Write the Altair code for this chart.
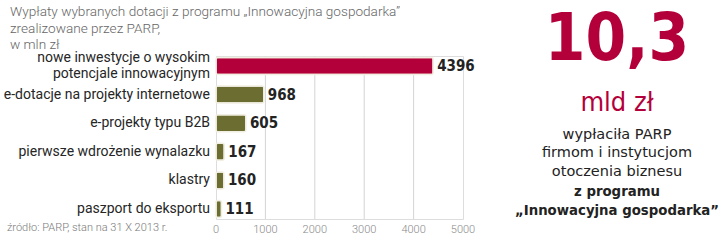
import altair as alt
import pandas as pd

categories = [
    "nowe inwestycje o wysokim\npotencjale innowacyjnym",
    "e-dotacje na projekty internetowe",
    "e-projekty typu B2B",
    "pierwsze wdrożenie wynalazku",
    "klastry",
    "paszport do eksportu",
]
values = [4396, 968, 605, 167, 160, 111]
highlight = [True, False, False, False, False, False]
x_ticks = [0, 1000, 2000, 3000, 4000, 5000]
grid_values = [1000, 2000, 3000, 4000]

title_text = "Wypłaty wybranych dotacji z programu „Innowacyjna gospodarka”\nzrealizowane przez PARP,\nw mln zł"
source_text = "źródło: PARP, stan na 31 X 2013 r."
big_number = "10,3"
big_unit = "mld zł"
side_lines = [
    ("wypłaciła PARP", "normal"),
    ("firmom i instytucjom", "normal"),
    ("otoczenia biznesu", "normal"),
    ("z programu", "bold"),
    ("„Innowacyjna gospodarka”", "bold"),
]

RED = "#b3003b"
OLIVE = "#6b6e30"
W, H = 247, 163
LEFT, TOP = 216, 56

df = pd.DataFrame({"cat": categories, "value": values, "hl": highlight})
df["label"] = df["value"].astype(str)

# label lines: split multi-line category names into separate rows
lab_rows = []
for c in categories:
    parts = c.split("\n")
    if len(parts) == 1:
        lab_rows.append({"cat": c, "text": parts[0], "pos": "single"})
    else:
        lab_rows.append({"cat": c, "text": parts[0], "pos": "top"})
        lab_rows.append({"cat": c, "text": parts[1], "pos": "bottom"})
lab = pd.DataFrame(lab_rows)

y_enc = alt.Y("cat:N", sort=categories, axis=None,
              scale=alt.Scale(paddingInner=0.3, paddingOuter=0.0))
x_scale = alt.Scale(domain=[0, 5000], nice=False, zero=True)

base = alt.Chart(df)

grid = alt.Chart(pd.DataFrame({"g": grid_values})).mark_rule(
    color="#d4d4d4", strokeWidth=1
).encode(x=alt.X("g:Q", scale=x_scale, axis=None))

axis_layer = alt.Chart(pd.DataFrame({"t": x_ticks})).mark_text(
    font="Roboto", fontSize=11, color="#8a8a8a", baseline="top", fontWeight=300
).encode(
    x=alt.X("t:Q", scale=x_scale, axis=None),
    y=alt.value(H + 5),
    text=alt.Text("t:Q", format="d"),
)

bars = base.mark_bar(
    size=17, cornerRadius=2, stroke="#f1eee2", strokeWidth=1.5
).encode(
    x=alt.X("value:Q", scale=x_scale, axis=None),
    y=y_enc,
    color=alt.condition("datum.hl", alt.value(RED), alt.value(OLIVE)),
)

value_labels = base.mark_text(
    align="left", baseline="middle", dx=4,
    font="DejaVu Sans Condensed",
    fontWeight="bold", fontSize=15, color="#232323"
).encode(
    x=alt.X("value:Q", scale=x_scale, axis=None),
    y=y_enc,
    text="label:N",
)

def cat_layer(pos, dy):
    return alt.Chart(lab).transform_filter(alt.datum.pos == pos).mark_text(
        align="right", baseline="middle", font="Roboto", fontSize=14,
        color="#262626", dy=dy
    ).encode(x=alt.value(-6), y=y_enc, text="text:N")

cat_labels = [cat_layer("single", 0), cat_layer("top", -8), cat_layer("bottom", 8)]

def txt(text, x, y, **kw):
    return alt.Chart(pd.DataFrame({"t": [text]})).mark_text(**kw).encode(
        x=alt.value(x), y=alt.value(y), text="t:N"
    )

title = txt(title_text, 10 - LEFT, 5 - TOP, align="left", baseline="top",
            font="Roboto", fontWeight=300, fontSize=13.6, color="#666666",
            lineBreak="\n", lineHeight=16.5)
source = txt(source_text, 7 - LEFT, 228 - TOP, align="left", baseline="middle",
             font="Roboto", fontWeight=300, fontSize=11, color="#7a7a7a")

cx = 617 - LEFT
big = txt(big_number, cx, 60 - TOP, align="center", baseline="alphabetic",
          font="DejaVu Sans Condensed", fontWeight="bold", fontSize=65, color=RED)
unit = txt(big_unit, cx, 111 - TOP, align="center", baseline="alphabetic",
           font="DejaVu Sans Condensed", fontWeight=300, fontSize=27, color=RED)

side_y = [135, 153, 172, 192, 211]
side = [
    txt(t, cx, yy - TOP, align="center", baseline="middle", font="DejaVu Sans",
        fontSize=14.5 if w == "normal" else 13.3, fontWeight=w, color="#222222")
    for (t, w), yy in zip(side_lines, side_y)
]

chart = alt.layer(
    grid, axis_layer, bars, value_labels, *cat_labels, title, source, big, unit, *side
).properties(
    width=W, height=H,
    autosize=alt.AutoSizeParams(type="none"),
    padding={"left": LEFT, "top": TOP, "right": 720 - LEFT - W, "bottom": 250 - TOP - H},
).configure_view(
    fill="#ebebeb", stroke="transparent", cornerRadius=6
).configure(background="white")

chart.save("out.html", embed_options={"renderer": "svg", "actions": False})
